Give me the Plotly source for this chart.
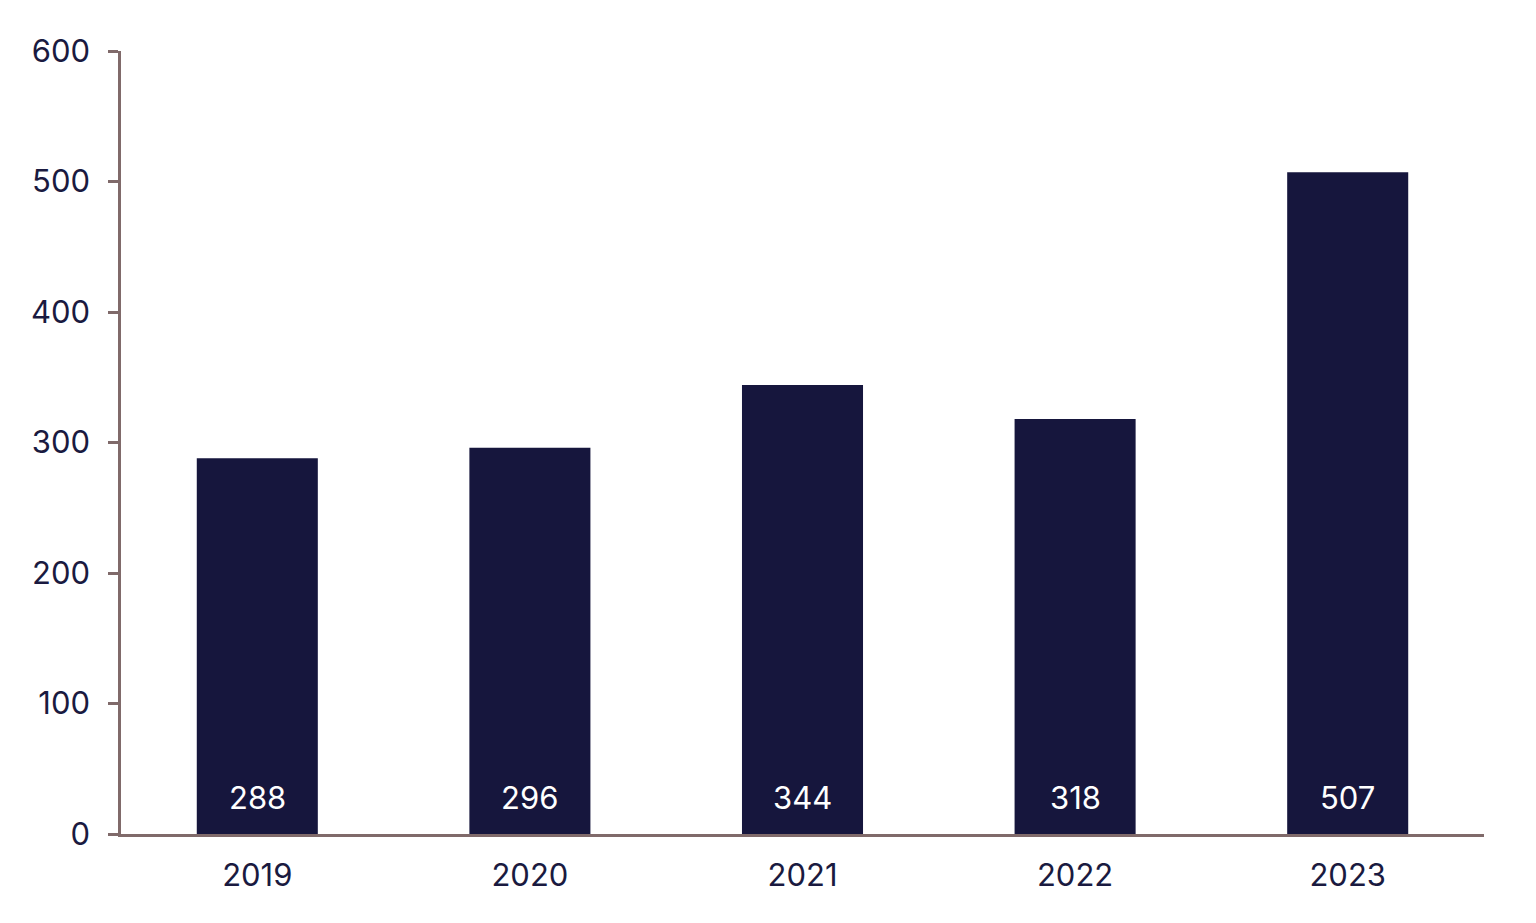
import plotly.graph_objects as go

years = ["2019", "2020", "2021", "2022", "2023"]
values = [288, 296, 344, 318, 507]
y_ticks = [0, 100, 200, 300, 400, 500, 600]

navy = "#16163d"
axis_col = "#806a6a"
font_family = "Inter, Lato, sans-serif"

fig = go.Figure()
fig.add_trace(
    go.Bar(
        x=years,
        y=values,
        marker=dict(color=navy, line=dict(width=0)),
        hoverinfo="skip",
    )
)

# value labels near the bottom of each bar (x = category index)
for i, v in enumerate(values):
    fig.add_annotation(
        x=i,
        y=0,
        text=str(v),
        showarrow=False,
        yanchor="bottom",
        yshift=16,
        font=dict(color="white", size=31, family=font_family),
    )

fig.update_layout(
    width=1520,
    height=907,
    margin=dict(l=113, r=44, t=43, b=81),
    plot_bgcolor="white",
    paper_bgcolor="white",
    bargap=0.556,
    showlegend=False,
    font=dict(family=font_family, size=31, color="#1a1a40"),
)
fig.update_yaxes(
    range=[0, 600],
    tickvals=y_ticks,
    showgrid=False,
    zeroline=False,
    showline=True,
    linecolor=axis_col,
    linewidth=2.5,
    ticks="outside",
    ticklen=10,
    tickwidth=2.5,
    tickcolor=axis_col,
    ticklabelstandoff=12,
)
fig.update_xaxes(
    type="category",
    range=[-0.5, len(years) - 0.5],
    showgrid=False,
    showline=True,
    linecolor=axis_col,
    linewidth=2.5,
    ticks="",
    ticklabelstandoff=12,
)

fig.write_html("out.html")
